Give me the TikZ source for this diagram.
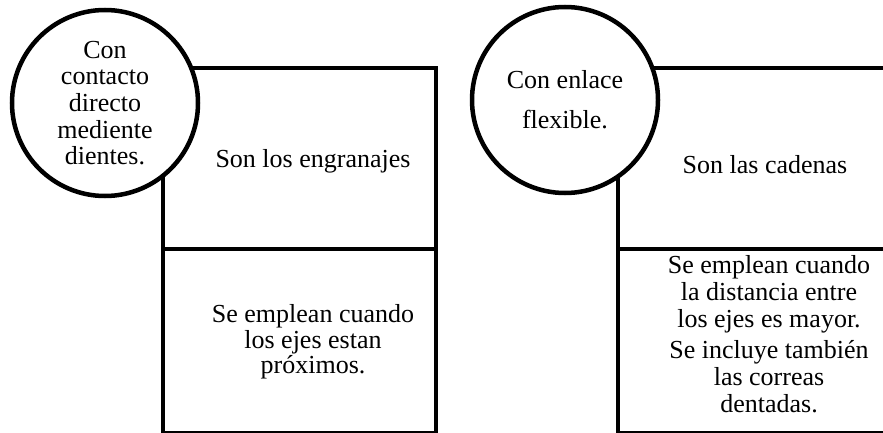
\documentclass[tikz,border=0pt]{standalone}
\usepackage{fontspec}
\newfontfamily\timesface{Liberation Serif}
\usetikzlibrary{positioning}

\begin{document}
\begin{tikzpicture}[
		x=1pt, y=1pt,
		cell/.style={
			draw,
			line width=4pt,
			outer sep=0pt,
			inner sep=0pt,
			minimum width=273pt
		},
		bubble/.style={
			circle,
			draw,
			line width=4.5pt,
			fill=white,
			minimum size=186pt,
			inner sep=0pt,
			align=center,
			font=\timesface\fontsize{26}{26.7}\selectfont
		},
		txt/.style={
			align=center,
			inner sep=0pt,
			font=\timesface\fontsize{26}{25.5}\selectfont
		}
		]
		\useasboundingbox (0,0) rectangle (883,432);
		
		% Gears table on the left
		\node[cell, minimum height=181pt, anchor=north west] (eng) at (163,364) {};
		\node[cell, minimum height=184pt, below=0pt of eng] (engdown) {};
		
		% Chains table on the right
		\node[cell, minimum height=181pt, anchor=north west] (cad) at (618,364) {};
		\node[cell, minimum height=184pt, below=0pt of cad] (caddown) {};
		
		% Texts inside the tables
		\node[txt, anchor=base] (engname) at ([xshift=13.5pt, yshift=-8.5pt]eng.center) {Son los engranajes};
		\node[txt] (enguse) at ([xshift=13.5pt, yshift=-1pt]engdown.center) {%
			Se emplean cuando\\
			los ejes estan\\
			próximos.
		};
		\node[txt, anchor=base] (cadname) at ([xshift=10.5pt, yshift=-14.5pt]cad.center) {Son las cadenas};
		\node[txt, font=\timesface\fontsize{26}{27}\selectfont] (caduse) at ([xshift=14.5pt, yshift=7pt]caddown.center) {%
			Se emplean cuando\\
			la distancia entre\\
			los ejes es mayor.\\[4pt]
			Se incluye también\\
			las correas\\
			dentadas.
		};
		
		% Circles over the top left corners
		\node[bubble] (direct) at (105,329) {%
			Con\\
			contacto\\
			directo\\
			mediente\\
			dientes.
		};
		\node[bubble] (flex) at (565,332) {%
			Con enlace\\[13pt]
			flexible.
		};
		
		\end{tikzpicture}
\end{document}
